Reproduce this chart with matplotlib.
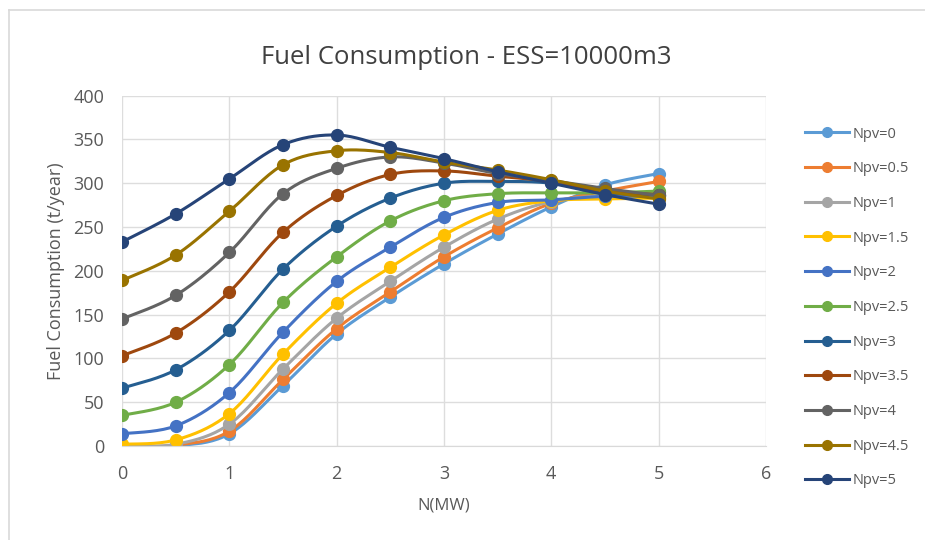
import numpy as np
import matplotlib
matplotlib.use("Agg")
import matplotlib.pyplot as plt
from matplotlib.lines import Line2D

# N (MW)
n_mw = [0, 0.5, 1, 1.5, 2, 2.5, 3, 3.5, 4, 4.5, 5]

npv_labels = ["Npv=0", "Npv=0.5", "Npv=1", "Npv=1.5", "Npv=2", "Npv=2.5",
              "Npv=3", "Npv=3.5", "Npv=4", "Npv=4.5", "Npv=5"]

npv_0 = [0, 0, 14, 69, 128, 170, 208, 242, 273, 298, 311]
npv_05 = [0, 1, 17, 76, 134, 176, 216, 249, 277, 291, 302]
npv_1 = [1, 2, 25, 88, 146, 188, 227, 259, 279, 286, 290]
npv_15 = [2, 7, 37, 105, 163, 204, 241, 269, 280, 282, 283]
npv_2 = [14, 23, 61, 130, 188, 227, 261, 278, 281, 285, 285]
npv_25 = [35, 50, 93, 164, 216, 257, 280, 288, 289, 289, 291]
npv_3 = [66, 87, 132, 202, 251, 283, 300, 302, 300, 289, 287]
npv_35 = [103, 129, 176, 244, 286, 310, 314, 308, 302, 291, 287]
npv_4 = [145, 172, 221, 288, 317, 330, 323, 311, 303, 294, 286]
npv_45 = [189, 218, 268, 321, 337, 335, 324, 315, 304, 291, 282]
npv_5 = [233, 265, 305, 344, 355, 341, 328, 313, 300, 287, 276]

series = [npv_0, npv_05, npv_1, npv_15, npv_2, npv_25,
          npv_3, npv_35, npv_4, npv_45, npv_5]

colors = ["#5B9BD5", "#ED7D31", "#A5A5A5", "#FFC000", "#4472C4", "#70AD47",
          "#255E91", "#9E480E", "#636363", "#997300", "#264478"]


def smooth_curve(x, y, steps=20):
    # Catmull-Rom style path through the points (like Excel "smoothed line")
    x = np.asarray(x, float)
    y = np.asarray(y, float)
    px = np.concatenate([[x[0]], x, [x[-1]]])
    py = np.concatenate([[y[0]], y, [y[-1]]])
    xs, ys = [], []
    t = np.linspace(0, 1, steps)
    for i in range(1, len(px) - 2):
        p0, p1, p2, p3 = (np.array([px[j], py[j]]) for j in (i - 1, i, i + 1, i + 2))
        c1 = p1 + (p2 - p0) / 6.0
        c2 = p2 - (p3 - p1) / 6.0
        seg = ((1 - t)[:, None] ** 3 * p1 + 3 * ((1 - t) ** 2 * t)[:, None] * c1
               + 3 * ((1 - t) * t ** 2)[:, None] * c2 + (t ** 3)[:, None] * p2)
        xs.extend(seg[:, 0])
        ys.extend(seg[:, 1])
    return np.array(xs), np.array(ys)


plt.rcParams["font.family"] = ["Open Sans", "DejaVu Sans"]

fig = plt.figure(figsize=(9.25, 5.4), dpi=100)
ax = fig.add_axes([0.132, 0.174, 0.696, 0.649])

for vals, col, lab in zip(series, colors, npv_labels):
    sx, sy = smooth_curve(n_mw, vals)
    ax.plot(sx, sy, color=col, linewidth=2.2, solid_capstyle="round")
    ax.plot(n_mw, vals, linestyle="none", marker="o", markersize=8.5,
            color=col)

ax.set_xlim(0, 6)
ax.set_ylim(0, 400)
ax.set_xticks(range(0, 7))
ax.set_yticks(range(0, 401, 50))
ax.grid(True, color="#DDDDDD", linewidth=1)
ax.set_axisbelow(True)
for s in ax.spines.values():
    s.set_visible(False)
ax.spines["bottom"].set_visible(True)
ax.spines["bottom"].set_color("#D9D9D9")
ax.tick_params(length=0, labelsize=13, colors="#595959")
ax.tick_params(axis="y", pad=13)
ax.tick_params(axis="x", pad=14)

fig.text(0.504, 0.893, "Fuel Consumption - ESS=10000m3", fontsize=18.5,
         color="#404040", ha="center", va="center")
ax.set_xlabel("N(MW)", fontsize=12, color="#595959", labelpad=10)
ax.set_ylabel("Fuel Consumption (t/year)", fontsize=13, color="#595959",
              labelpad=6)

handles = [Line2D([0], [0], color=c, linewidth=2.2, marker="o", markersize=7)
           for c in colors]
leg = fig.legend(handles, npv_labels, loc="upper left",
                 bbox_to_anchor=(0.8566, 0.79), frameon=False, fontsize=10.5,
                 labelcolor="#595959", handlelength=3.0, handletextpad=0.2,
                 labelspacing=1.35)

# chart area border (top and left edges)
fig.add_artist(Line2D([0.0097, 1.0], [0.981, 0.981], color="#D9D9D9",
                      linewidth=1.2, transform=fig.transFigure))
fig.add_artist(Line2D([0.0097, 0.0097], [0.0, 0.981], color="#D9D9D9",
                      linewidth=1.2, transform=fig.transFigure))

fig.savefig("out.png", dpi=100)
